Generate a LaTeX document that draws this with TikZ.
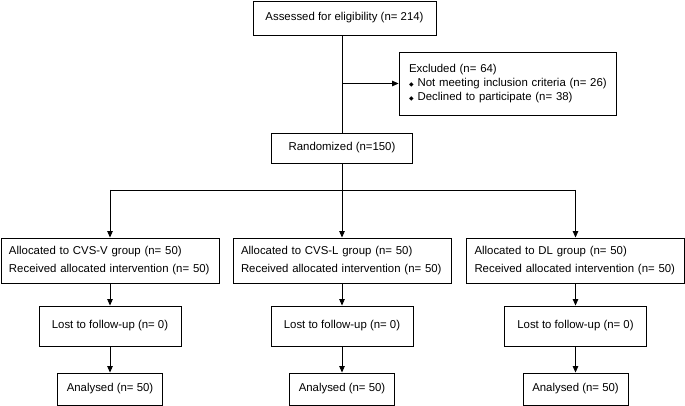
\documentclass[tikz,border=0pt]{standalone}
\usepackage{fontspec}
\setmainfont{Liberation Sans}
\newfontfamily\dejavu{DejaVu Sans}
\usetikzlibrary{arrows.meta}
\newcommand\dbul{{\dejavu\fontsize{6}{6}\selectfont ◆}\hspace{4pt}}
\begin{document}
\begin{tikzpicture}[x=1pt,y=-1pt,
  box/.style={draw=black, line width=0.9pt, inner sep=0pt, font=\fontsize{11.4}{17}\selectfont, align=center},
  conn/.style={line width=0.9pt, -{Triangle[length=6.5pt,width=5.5pt]}},
  ln/.style={line width=0.9pt}]
\useasboundingbox (0,0) rectangle (685,406);
\node[box, minimum width=183, minimum height=34] (top) at (344.5,18) {Assessed for eligibility (n= 214)};
\node[box, minimum width=217, minimum height=63, text width=203, align=left, font=\fontsize{11.4}{14}\selectfont] (excl) at (507.5,83.5)
  {\mbox{\hspace*{3pt}Excluded (n= 64)}\\ \mbox{\hspace*{3pt}\dbul Not meeting inclusion criteria (n= 26)}\\ \mbox{\hspace*{3pt}\dbul Declined to participate (n= 38)}};
\node[box, minimum width=141, minimum height=30] (rand) at (342,148) {Randomized (n=150)};
\foreach \i/\x/\g in {1/110/CVS-V, 2/342/CVS-L, 3/575.5/DL}{
  \node[box, minimum width=218, minimum height=45, text width=202, align=left, font=\fontsize{11.4}{18}\selectfont] (a\i) at (\x,260.5)
    {Allocated to \g\ group (n= 50)\\ Received allocated intervention (n= 50)};
  \node[box, minimum width=142, minimum height=40] (l\i) at (\x,326) {Lost to follow-up (n= 0)};
  \node[box, minimum width=105, minimum height=32] (n\i) at (\x,389) {Analysed (n= 50)};
  \draw[conn] (a\i) -- (l\i);
  \draw[conn] (l\i) -- (n\i);
}
\coordinate (split) at (342,190);
\draw[ln] (rand.north |- top.south) -- (rand.north);
\draw[conn] (rand.north |- excl.west) -- (excl.west);
\draw[ln] (rand.south) -- (split);
\draw[ln] (a1.north |- split) -- (a3.north |- split);
\draw[conn] (a1.north |- split) -- (a1.north);
\draw[conn] (split) -- (a2.north);
\draw[conn] (a3.north |- split) -- (a3.north);
\end{tikzpicture}
\end{document}
